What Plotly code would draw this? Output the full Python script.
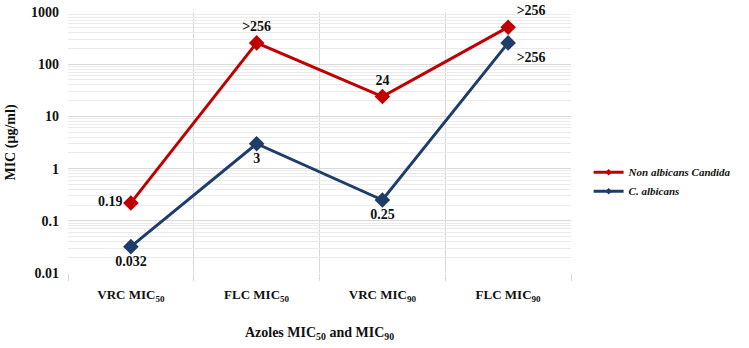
import plotly.graph_objects as go

categories = ["VRC MIC<sub>50</sub>", "FLC MIC<sub>50</sub>", "VRC MIC<sub>90</sub>", "FLC MIC<sub>90</sub>"]
non_albicans = [0.22, 256, 24, 512]
non_albicans_labels = ["0.19", ">256", "24", ">256"]
c_albicans = [0.032, 3, 0.25, 256]
c_albicans_labels = ["0.032", "3", "0.25", ">256"]
y_ticks = [0.01, 0.1, 1, 10, 100, 1000]
y_tick_labels = ["0.01", "0.1", "1", "10", "100", "1000"]

xpos = [i + 0.5 for i in range(len(categories))]
FONT = "Liberation Serif, Times New Roman, serif"
RED = "#C00000"
BLUE = "#1F3D6B"
LABEL_FONT = dict(family=FONT, size=14, color="#111", weight="bold")

fig = go.Figure()
fig.add_trace(go.Scatter(
    x=xpos, y=non_albicans, mode="lines+markers+text", name="Non albicans Candida",
    line=dict(color=RED, width=3), marker=dict(symbol="diamond", size=12, color=RED),
    text=non_albicans_labels,
    textposition=["middle left", "top center", "top center", "top right"],
    textfont=LABEL_FONT, showlegend=False, cliponaxis=False,
))
fig.add_trace(go.Scatter(
    x=xpos, y=c_albicans, mode="lines+markers+text", name="C. albicans",
    line=dict(color=BLUE, width=3), marker=dict(symbol="diamond", size=12, color=BLUE),
    text=c_albicans_labels,
    textposition=["bottom center", "bottom center", "bottom center", "bottom right"],
    textfont=LABEL_FONT, showlegend=False, cliponaxis=False,
))
# legend-only entries with small markers
for name, col in [("Non albicans Candida", RED), ("C. albicans", BLUE)]:
    fig.add_trace(go.Scatter(
        x=[None], y=[None], mode="lines+markers", name=name,
        line=dict(color=col, width=3), marker=dict(symbol="diamond", size=5, color=col),
    ))

fig.update_layout(
    width=749, height=348,
    margin=dict(l=68, r=171, t=12, b=75),
    paper_bgcolor="white", plot_bgcolor="white",
    font=dict(family=FONT, size=12, color="#111"),
    legend=dict(x=1.035, y=0.35, xanchor="left", yanchor="middle",
                font=dict(family=FONT, size=11, style="italic", weight="bold"),
                tracegroupgap=4, itemwidth=30),
    showlegend=True,
)
fig.update_xaxes(
    range=[0, 4], tickvals=xpos, ticktext=categories, showgrid=False, zeroline=False,
    tickfont=dict(family=FONT, size=13, weight="bold"), ticks="", ticklabelstandoff=12,
    minor=dict(tickmode="linear", tick0=0, dtick=1, showgrid=True, gridcolor="#d9d9d9",
               gridwidth=1, ticks="outside", ticklen=7, tickcolor="#d9d9d9"),
    title=dict(text="Azoles MIC<sub>50</sub> and MIC<sub>90</sub>",
               font=dict(family=FONT, size=14, weight="bold"), standoff=24),
    showline=False, automargin=False,
)
fig.update_yaxes(
    type="log", range=[-2, 3], tickvals=y_ticks, ticktext=y_tick_labels,
    showgrid=True, gridcolor="#d9d9d9", gridwidth=1, zeroline=False,
    tickfont=dict(family=FONT, size=14, weight="bold"), ticks="", ticklabelstandoff=8,
    minor=dict(dtick="D1", showgrid=True, gridcolor="#ebebeb", gridwidth=1),
    title=dict(text="MIC (µg/ml)", font=dict(family=FONT, size=14, weight="bold"), standoff=12),
    showline=False, automargin=False,
)

# remove the browser's default 8px body margin so the figure fills the window exactly
fig.write_html("out.html", config={"displayModeBar": False},
               post_script="document.body.style.margin='0px';")
